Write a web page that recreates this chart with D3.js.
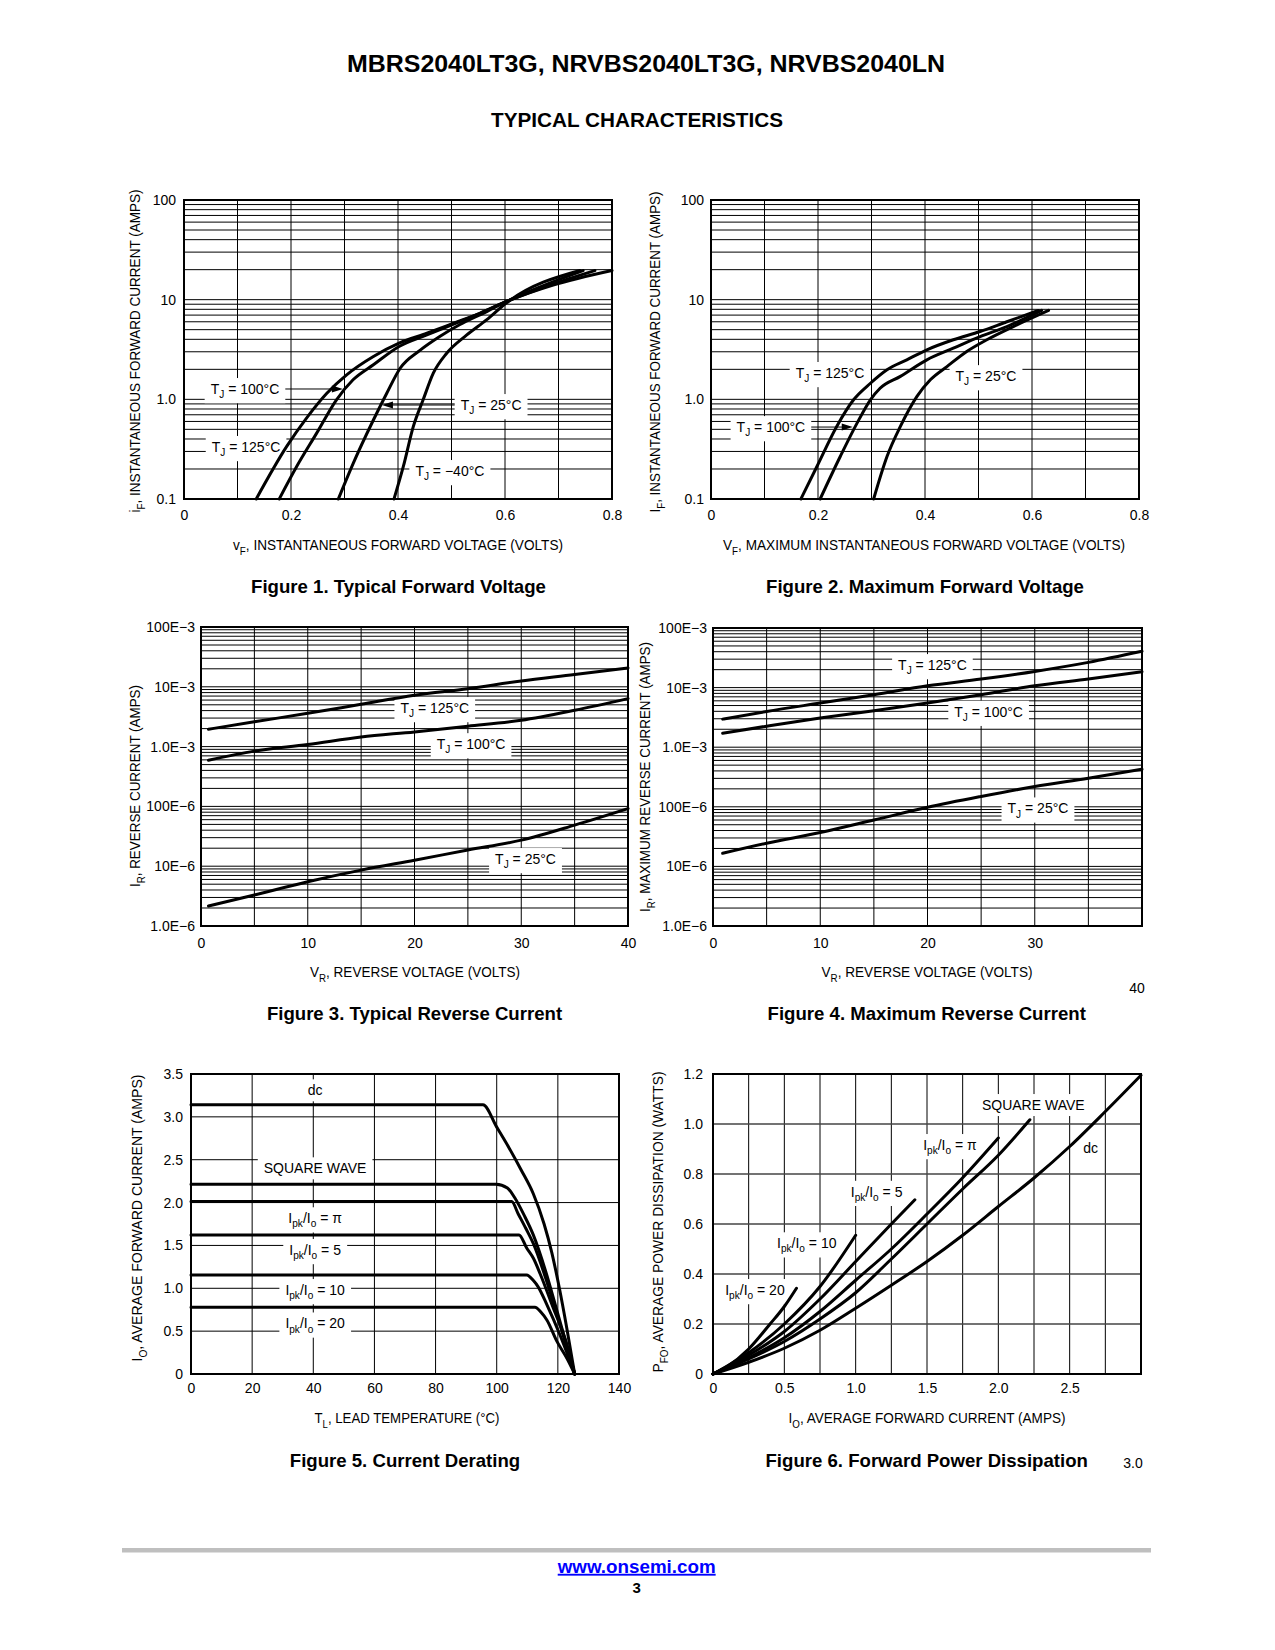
<!DOCTYPE html>
<html><head><meta charset="utf-8">
<script src="https://cdn.jsdelivr.net/npm/d3@7"></script>
<style>
html,body{margin:0;padding:0;background:#fff;}
svg{display:block;}
text{font-family:"Liberation Sans",Arial,Helvetica,sans-serif;fill:#000;}
</style></head><body>
<svg id="page" width="1275" height="1650"></svg>
<script>
// ---------------- DATA ----------------
// Figure 1: typical forward voltage [V, A]
const fig1_tj125 = [[0.135,0.1],[0.192,0.337],[0.229,0.648],[0.267,1.15],[0.304,1.76],[0.354,2.69],[0.402,3.66],[0.454,4.6],[0.504,5.8],[0.553,7.3],[0.603,9.6],[0.69,14],[0.8,19.6]];
const fig1_tj100 = [[0.178,0.1],[0.2106,0.212],[0.248,0.458],[0.285,0.99],[0.316,1.57],[0.354,2.22],[0.402,3.39],[0.454,4.43],[0.504,5.7],[0.553,7.3],[0.603,9.6],[0.68,13.8],[0.768,19.6]];
const fig1_tj25  = [[0.2885,0.1],[0.3165,0.229],[0.354,0.62],[0.379,1.15],[0.404,2.05],[0.441,3.1],[0.478,4.27],[0.515,5.6],[0.566,7.6],[0.603,9.6],[0.746,19.6]];
const fig1_tjm40 = [[0.3925,0.1],[0.41,0.212],[0.4287,0.535],[0.447,0.99],[0.466,1.83],[0.491,2.9],[0.528,4.4],[0.566,6.3],[0.603,9.3],[0.74,19.6]];
// Figure 2: maximum forward voltage
const fig2_tj125 = [[0.168,0.1],[0.198,0.212],[0.235,0.535],[0.2665,0.99],[0.298,1.45],[0.329,1.98],[0.366,2.49],[0.4035,3.14],[0.453,3.96],[0.503,4.79],[0.553,6.0],[0.612,7.8]];
const fig2_tj100 = [[0.204,0.1],[0.2416,0.267],[0.273,0.577],[0.298,0.99],[0.316,1.29],[0.354,1.7],[0.4035,2.49],[0.453,3.26],[0.503,4.26],[0.553,5.37],[0.618,7.8]];
const fig2_tj25  = [[0.304,0.1],[0.329,0.267],[0.354,0.535],[0.385,1.07],[0.41,1.57],[0.441,2.13],[0.478,3.02],[0.5156,3.96],[0.565,5.37],[0.631,7.8]];
// Figure 3: typical reverse current [V, A]
const fig3_tj125 = [[0.7,1.95e-3],[5,2.6e-3],[10,3.6e-3],[15,5.1e-3],[20,7.2e-3],[25,9.3e-3],[30,1.25e-2],[35,1.6e-2],[40,2.07e-2]];
const fig3_tj100 = [[0.7,5.9e-4],[5,8.4e-4],[10,1.08e-3],[15,1.45e-3],[20,1.76e-3],[25,2.19e-3],[30,2.76e-3],[35,4.06e-3],[40,6.35e-3]];
const fig3_tj25  = [[0.7,2.16e-6],[5,3.3e-6],[10,5.5e-6],[15,8.6e-6],[20,1.26e-5],[25,1.86e-5],[30,2.73e-5],[35,4.87e-5],[40,9.2e-5]];
// Figure 4: maximum reverse current
const fig4_tj125 = [[0.9,2.96e-3],[5,3.98e-3],[10,5.5e-3],[15,7.58e-3],[20,1.07e-2],[25,1.39e-2],[30,1.87e-2],[35,2.65e-2],[40,4.06e-2]];
const fig4_tj100 = [[0.9,1.72e-3],[5,2.25e-3],[10,3.08e-3],[15,4.08e-3],[20,5.5e-3],[25,7.6e-3],[30,1.07e-2],[35,1.4e-2],[40,1.85e-2]];
const fig4_tj25  = [[0.9,1.66e-5],[5,2.45e-5],[10,3.7e-5],[15,6e-5],[20,9.8e-5],[25,1.49e-4],[30,2.19e-4],[35,3.02e-4],[40,4.28e-4]];
// Figure 5: current derating [T_L degC, A]
const fig5_dc     = [[0,3.14],[95.5,3.14],[100,2.88],[104,2.64],[108,2.38],[112,2.1],[115.5,1.75],[118,1.42],[120.5,1.0],[123,0.52],[125.5,0]];
const fig5_square = [[0,2.215],[99.8,2.215],[103.5,2.17],[106,2.05],[109,1.85],[112,1.62],[116,1.2],[120,0.7],[125.5,0]];
const fig5_pi     = [[0,2.013],[104.9,2.013],[107,1.87],[109.5,1.7],[112,1.52],[116,1.12],[120,0.66],[125.5,0]];
const fig5_r5     = [[0,1.623],[107.3,1.623],[109.8,1.47],[112,1.35],[114.2,1.17],[118.5,0.77],[123,0.34],[125.5,0]];
const fig5_r10    = [[0,1.156],[109.8,1.156],[112,1.09],[113.5,1.02],[116.4,0.81],[120.7,0.455],[125.5,0]];
const fig5_r20    = [[0,0.779],[112.5,0.779],[114.5,0.72],[116.4,0.63],[119.7,0.38],[123,0.18],[125.5,0]];
// Figure 6: forward power dissipation [A, W]
const fig6_dc     = [[0,0],[0.25,0.047],[0.5,0.103],[0.75,0.175],[1.0,0.263],[1.25,0.355],[1.5,0.45],[1.75,0.555],[2.0,0.67],[2.25,0.784],[2.5,0.91],[2.75,1.05],[3.0,1.195]];
const fig6_square = [[0,0],[0.25,0.06],[0.5,0.13],[0.75,0.22],[1.0,0.325],[1.25,0.46],[1.5,0.6],[1.75,0.74],[2.0,0.875],[2.221,1.017]];
const fig6_pi     = [[0,0],[0.25,0.065],[0.5,0.145],[0.75,0.25],[1.0,0.375],[1.25,0.5],[1.5,0.64],[1.75,0.785],[2.0,0.944]];
const fig6_r5     = [[0,0],[0.25,0.075],[0.5,0.17],[0.75,0.3],[1.0,0.45],[1.25,0.6],[1.415,0.697]];
const fig6_r10    = [[0,0],[0.25,0.085],[0.5,0.2],[0.75,0.35],[1.0,0.555]];
const fig6_r20    = [[0,0],[0.1,0.03],[0.25,0.1],[0.4,0.2],[0.5,0.27],[0.585,0.343]];

// tick labels
const fwdVTicks = [0,0.2,0.4,0.6,0.8];
const fwdITicks = [0.1,1,10,100];
const fwdILabels = ["0.1","1.0","10","100"];
const revITicks = [1e-6,1e-5,1e-4,1e-3,1e-2,1e-1];
const revILabels = ["1.0E−6","10E−6","100E−6","1.0E−3","10E−3","100E−3"];
const revVTicks3 = [0,10,20,30,40];
const revVTicks4 = [0,10,20,30];
const tempTicks = [0,20,40,60,80,100,120,140];
const ioTicks5 = [0,0.5,1.0,1.5,2.0,2.5,3.0,3.5];
const ioTicks6 = [0,0.5,1.0,1.5,2.0,2.5];
const pTicks = [0,0.2,0.4,0.6,0.8,1.0,1.2];

// ---------------- DRAWING ----------------
const svg = d3.select("#page");
const FONT = "Liberation Sans, Arial, Helvetica, sans-serif";

function rich(t, str, fs) {
  const parts = str.split(/(_\{[^}]*\})/).filter(p => p.length);
  let shifted = false;
  parts.forEach(p => {
    const m = p.match(/^_\{(.*)\}$/);
    if (m) {
      t.append("tspan").attr("font-size", fs * 0.72).attr("dy", fs * 0.3).text(m[1]);
      shifted = true;
    } else {
      const s = t.append("tspan").text(p);
      if (shifted) { s.attr("dy", -fs * 0.3); shifted = false; }
    }
  });
}

function plainText(x, y, str, fs, opts = {}) {
  const t = svg.append("text").attr("x", x).attr("y", y + fs * 0.36)
    .attr("font-size", fs).attr("text-anchor", opts.anchor || "middle")
    .attr("font-weight", opts.bold ? "bold" : "normal");
  if (opts.fill) t.style("fill", opts.fill);
  if (opts.len) t.attr("textLength", opts.len).attr("lengthAdjust", "spacingAndGlyphs");
  rich(t, str, fs);
  return t;
}

function axisTitle(str, cx, cy, len, rotate) {
  const fs = 15;
  const g = svg.append("g").attr("transform", `translate(${cx},${cy})` + (rotate ? " rotate(-90)" : ""));
  const t = g.append("text").attr("x", 0).attr("y", fs * 0.36).attr("font-size", fs)
    .attr("text-anchor", "middle").attr("textLength", len).attr("lengthAdjust", "spacingAndGlyphs");
  rich(t, str, fs);
}

function drawChart(c) {
  const x = d3.scaleLinear().domain(c.xd).range([c.l, c.r]);
  const y = (c.log ? d3.scaleLog() : d3.scaleLinear()).domain(c.yd).range([c.b, c.t]);
  const gGrid = svg.append("g"), gBox = svg.append("g"), gCurve = svg.append("g"), gLab = svg.append("g");

  gGrid.selectAll(null).data(c.xGrid).join("line")
    .attr("x1", d => x(d)).attr("x2", d => x(d)).attr("y1", c.t).attr("y2", c.b)
    .attr("stroke", "#000").attr("stroke-width", 1);
  const yg = c.log ? y.ticks() : c.yGrid;
  gGrid.selectAll(null).data(yg).join("line")
    .attr("x1", c.l).attr("x2", c.r).attr("y1", d => y(d)).attr("y2", d => y(d))
    .attr("stroke", c.hColor || "#000").attr("stroke-width", c.hWidth || 1);

  const ax = d3.axisBottom(x).tickValues(c.xTicks).tickFormat(c.xFmt).tickSize(0).tickPadding(c.xPad);
  const gx = svg.append("g").attr("transform", `translate(0,${c.b})`).call(ax);
  gx.select(".domain").remove();
  gx.attr("font-size", 14).attr("font-family", FONT);
  const ay = d3.axisLeft(y).tickValues(c.yTicks).tickFormat(c.yFmt).tickSize(0).tickPadding(c.yPad);
  const gy = svg.append("g").attr("transform", `translate(${c.l},0)`).call(ay);
  gy.select(".domain").remove();
  gy.attr("font-size", 14).attr("font-family", FONT);

  const line = d3.line().x(d => x(d[0])).y(d => y(d[1])).curve(d3.curveMonotoneX);
  gCurve.selectAll(null).data(c.series).join("path")
    .attr("d", line).attr("fill", "none").attr("stroke", "#000")
    .attr("stroke-width", 3).attr("stroke-linejoin", "round").attr("stroke-linecap", "round");
  gCurve.append("rect").attr("x", c.l).attr("y", c.t).attr("width", c.r - c.l).attr("height", c.b - c.t)
    .attr("fill", "none").attr("stroke", "#000").attr("stroke-width", 2);

  c.labels.forEach(lb => {
    const px = x(lb.x), py = y(lb.y), fs = 14;
    const t = gLab.append("text").attr("x", px).attr("y", py + fs * 0.36).attr("font-size", fs).attr("text-anchor", "middle");
    rich(t, lb.t, fs);
    const bb = t.node().getBBox();
    const bx0 = bb.x - 6, bx1 = bb.x + bb.width + 6;
    gBox.append("rect").attr("x", bx0).attr("y", bb.y - 3).attr("width", bx1 - bx0).attr("height", bb.height + 6).attr("fill", "#fff");
    if (lb.arrow) {
      const tip = x(lb.arrow.tip), hl = 11, hw = 3.5;
      if (lb.arrow.dir === "right") {
        gLab.append("line").attr("x1", bx1).attr("x2", tip - hl + 1).attr("y1", py).attr("y2", py).attr("stroke", "#000").attr("stroke-width", 1);
        gLab.append("path").attr("d", `M${tip},${py}L${tip - hl},${py - hw}L${tip - hl},${py + hw}Z`).attr("fill", "#000");
      } else {
        gLab.append("line").attr("x1", bx0).attr("x2", tip + hl - 1).attr("y1", py).attr("y2", py).attr("stroke", "#000").attr("stroke-width", 1);
        gLab.append("path").attr("d", `M${tip},${py}L${tip + hl},${py - hw}L${tip + hl},${py + hw}Z`).attr("fill", "#000");
      }
    }
  });

  axisTitle(c.xTitle[0], c.xTitle[1], c.xTitle[2], c.xTitle[3], false);
  axisTitle(c.yTitle[0], c.yTitle[1], c.yTitle[2], c.yTitle[3], true);
  plainText(c.caption[1], c.caption[2], c.caption[0], 18.6, { bold: true });
}

const fmtFwd = d => fwdILabels[fwdITicks.indexOf(d)];
const fmtRev = d => revILabels[revITicks.findIndex(v => Math.abs(v - d) / v < 1e-6)];
const fmt1 = d => d === 0 ? "0" : d.toFixed(1);
const fmtInt = d => String(d);
const linTicks = (a, b, s) => d3.range(a, b + s / 2, s);

// page title
plainText(646, 63, "MBRS2040LT3G, NRVBS2040LT3G, NRVBS2040LN", 24, { bold: true, len: 598 });
plainText(637, 120, "TYPICAL CHARACTERISTICS", 20, { bold: true, len: 292 });

drawChart({
  l: 184, r: 612, t: 200, b: 499, xd: [0, 0.8], yd: [0.1, 100], log: true,
  xGrid: linTicks(0, 0.8, 0.1), xTicks: fwdVTicks, xFmt: fmt1, xPad: 11, yTicks: fwdITicks, yFmt: fmtFwd, yPad: 8,
  series: [fig1_tj125, fig1_tj100, fig1_tj25, fig1_tjm40],
  labels: [
    { t: "T_{J} = 100°C", x: 0.114, y: 1.27, arrow: { tip: 0.297, dir: "right" } },
    { t: "T_{J} = 125°C", x: 0.116, y: 0.333 },
    { t: "T_{J} = 25°C", x: 0.574, y: 0.877, arrow: { tip: 0.370, dir: "left" } },
    { t: "T_{J} = −40°C", x: 0.497, y: 0.191 }
  ],
  xTitle: ["v_{F}, INSTANTANEOUS FORWARD VOLTAGE (VOLTS)", 398, 545, 330],
  yTitle: ["i_{F}, INSTANTANEOUS FORWARD CURRENT (AMPS)", 135, 351, 323],
  caption: ["Figure 1. Typical Forward Voltage", 398.5, 586]
});

drawChart({
  l: 711, r: 1139, t: 200, b: 499, xd: [0, 0.8], yd: [0.1, 100], log: true,
  xGrid: linTicks(0, 0.8, 0.1), xTicks: fwdVTicks, xFmt: fmt1, xPad: 11, yTicks: fwdITicks, yFmt: fmtFwd, yPad: 7,
  series: [fig2_tj125, fig2_tj100, fig2_tj25],
  labels: [
    { t: "T_{J} = 125°C", x: 0.2224, y: 1.84 },
    { t: "T_{J} = 25°C", x: 0.514, y: 1.71 },
    { t: "T_{J} = 100°C", x: 0.112, y: 0.527, arrow: { tip: 0.265, dir: "right" } }
  ],
  xTitle: ["V_{F}, MAXIMUM INSTANTANEOUS FORWARD VOLTAGE (VOLTS)", 924, 545, 402],
  yTitle: ["I_{F}, INSTANTANEOUS FORWARD CURRENT (AMPS)", 655, 352, 321],
  caption: ["Figure 2. Maximum Forward Voltage", 925, 586]
});

drawChart({
  l: 201, r: 628, t: 627, b: 926, xd: [0, 40], yd: [1e-6, 1e-1], log: true,
  xGrid: linTicks(0, 40, 5), xTicks: revVTicks3, xFmt: fmtInt, xPad: 12, yTicks: revITicks, yFmt: fmtRev, yPad: 6,
  series: [fig3_tj125, fig3_tj100, fig3_tj25],
  labels: [
    { t: "T_{J} = 125°C", x: 21.9, y: 4.42e-3 },
    { t: "T_{J} = 100°C", x: 25.3, y: 1.1e-3 },
    { t: "T_{J} = 25°C", x: 30.4, y: 1.32e-5 }
  ],
  xTitle: ["V_{R}, REVERSE VOLTAGE (VOLTS)", 415, 972, 210],
  yTitle: ["I_{R}, REVERSE CURRENT (AMPS)", 135, 786, 202],
  caption: ["Figure 3. Typical Reverse Current", 414.5, 1013]
});

drawChart({
  l: 713, r: 1142, t: 628, b: 926, xd: [0, 40], yd: [1e-6, 1e-1], log: true,
  xGrid: linTicks(0, 40, 5), xTicks: revVTicks4, xFmt: fmtInt, xPad: 12, yTicks: revITicks, yFmt: fmtRev, yPad: 6,
  series: [fig4_tj125, fig4_tj100, fig4_tj25],
  labels: [
    { t: "T_{J} = 125°C", x: 20.46, y: 2.39e-2 },
    { t: "T_{J} = 100°C", x: 25.7, y: 3.94e-3 },
    { t: "T_{J} = 25°C", x: 30.3, y: 9.4e-5 }
  ],
  xTitle: ["V_{R}, REVERSE VOLTAGE (VOLTS)", 927, 972, 211],
  yTitle: ["I_{R}, MAXIMUM REVERSE CURRENT (AMPS)", 645, 777, 270],
  caption: ["Figure 4. Maximum Reverse Current", 926.7, 1013]
});
plainText(1137, 988, "40", 14);

drawChart({
  l: 191, r: 619, t: 1074, b: 1374, xd: [0, 140], yd: [0, 3.5], log: false,
  xGrid: linTicks(0, 140, 20), yGrid: linTicks(0, 3.5, 0.5), xTicks: tempTicks, xFmt: fmtInt, xPad: 9, yTicks: ioTicks5, yFmt: fmt1, yPad: 8,
  series: [fig5_dc, fig5_square, fig5_pi, fig5_r5, fig5_r10, fig5_r20],
  labels: [
    { t: "dc", x: 40.6, y: 3.31 },
    { t: "SQUARE WAVE", x: 40.6, y: 2.40 },
    { t: "I_{pk}/I_{o} = π", x: 40.6, y: 1.817 },
    { t: "I_{pk}/I_{o} = 5", x: 40.6, y: 1.447 },
    { t: "I_{pk}/I_{o} = 10", x: 40.6, y: 0.98 },
    { t: "I_{pk}/I_{o} = 20", x: 40.6, y: 0.59 }
  ],
  xTitle: ["T_{L}, LEAD TEMPERATURE (°C)", 407, 1418, 185],
  yTitle: ["I_{O}, AVERAGE FORWARD CURRENT (AMPS)", 137, 1218, 287],
  caption: ["Figure 5. Current Derating", 405, 1460]
});

drawChart({
  l: 713, r: 1141, t: 1074, b: 1374, xd: [0, 3], yd: [0, 1.2], log: false,
  xGrid: linTicks(0, 3, 0.25), yGrid: linTicks(0, 1.2, 0.2), hColor: "#444", hWidth: 1.4,
  xTicks: ioTicks6, xFmt: fmt1, xPad: 9, yTicks: pTicks, yFmt: fmt1, yPad: 10,
  series: [fig6_dc, fig6_square, fig6_pi, fig6_r5, fig6_r10, fig6_r20],
  labels: [
    { t: "SQUARE WAVE", x: 2.245, y: 1.076 },
    { t: "dc", x: 2.647, y: 0.903 },
    { t: "I_{pk}/I_{o} = π", x: 1.661, y: 0.916 },
    { t: "I_{pk}/I_{o} = 5", x: 1.147, y: 0.729 },
    { t: "I_{pk}/I_{o} = 10", x: 0.657, y: 0.523 },
    { t: "I_{pk}/I_{o} = 20", x: 0.294, y: 0.336 }
  ],
  xTitle: ["I_{O}, AVERAGE FORWARD CURRENT (AMPS)", 927, 1418, 277],
  yTitle: ["P_{FO}, AVERAGE POWER DISSIPATION (WATTS)", 658, 1222, 301],
  caption: ["Figure 6. Forward Power Dissipation", 926.7, 1460]
});
plainText(1133, 1463, "3.0", 14);

// footer
svg.append("rect").attr("x", 122).attr("y", 1548).attr("width", 1029).attr("height", 4.5).attr("fill", "#bfbfbf");
plainText(636.7, 1566, "www.onsemi.com", 18.8, { bold: true, fill: "#0000ff" }).style("text-decoration", "underline");
plainText(636.7, 1588, "3", 15, { bold: true });
</script>
</body></html>
